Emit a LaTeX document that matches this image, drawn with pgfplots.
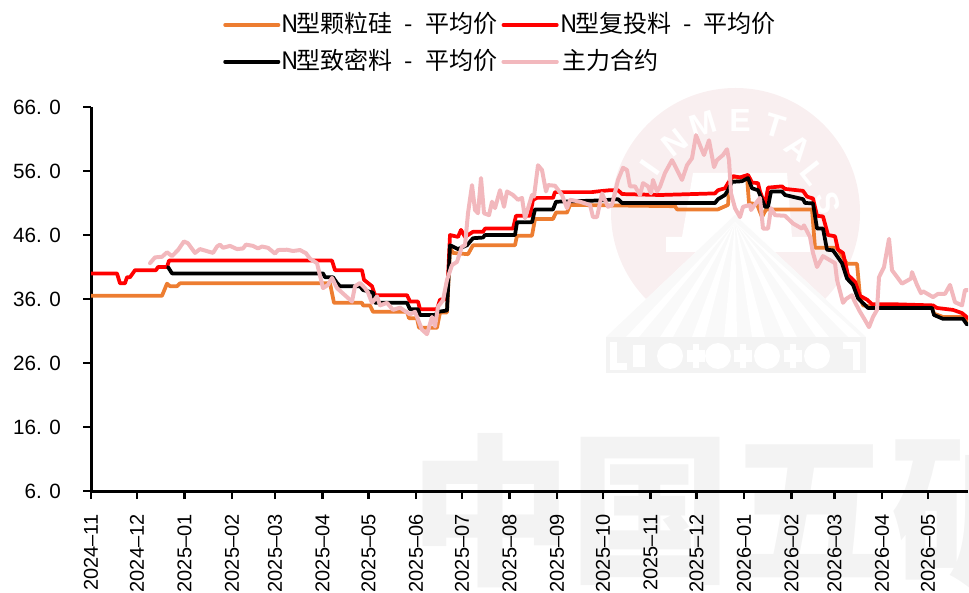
\documentclass[border=0pt]{standalone}
\usepackage{fontspec}
\usepackage{pgfplots}
\pgfplotsset{compat=1.18}
\setmainfont{Liberation Sans}
\newfontfamily\cjk{Noto Sans CJK SC}
\definecolor{corange}{HTML}{ED7D31}
\definecolor{cred}{HTML}{FF0000}
\definecolor{cpink}{HTML}{F2B8BD}
\definecolor{wmred}{HTML}{F9EFF0}
\definecolor{wmgrey}{HTML}{F3F3F3}
\definecolor{wmfan}{HTML}{F9F9F9}
\newcommand{\lent}[1]{{\fontsize{18}{18}\cjk\makebox[.52em]{N}#1}}
\newcommand{\avg}{\hspace{.5em}-\hspace{.5em}平均价}

\begin{document}
\begin{tikzpicture}
% watermark, in image pixels
\begin{scope}[x=.75pt,y=-.75pt,xshift=-68.25pt,yshift=368.25pt]
  \clip (0,0) rectangle (969,592);
  \fill[wmred] (735.5,212.5) circle (124.5);
  % white logo in the disc
  \fill[white] (693,173) -- (787,173) -- (792,237) -- (810,237) -- (810,252) -- (666,252) -- (666,237) -- (682,237) -- cycle;
  \foreach \cx/\cy/\a/\t in {650/168/55/I,675/143/38/N,703/124/17/M,740/120/0/E,775/126/-17/T,798/148/-38/A,813/173/-52/L,828/203/-75/S}
    \node[white,font=\bfseries\fontsize{24}{24}\selectfont,rotate=\a] at (\cx,\cy) {\t};
  % fan and base
  \fill[white] (735,215) -- (606,337) -- (866,337) -- cycle;
  \fill[wmfan] (735,215) -- (606,337) -- (866,337) -- cycle;
  \foreach \bx in {626,660,692,724,752,784,816,848}
    \fill[white] (735,222) -- (\bx,337) -- (\bx+13,337) -- cycle;
  \fill[wmgrey] (606,337) rectangle (866,373);
  \fill[white] (610,342) rectangle (617,370);
  \fill[white] (610,363) rectangle (627,370);
  \fill[white] (853,342) rectangle (860,370);
  \fill[white] (843,342) rectangle (860,349);
  \fill[white] (633,345) rectangle (645,367);
  \foreach \bx in {670,718,767,817}
    \fill[white] (\bx,356) circle (13);
  \foreach \bx in {696,743,793}{
    \fill[white] (\bx-3,344) rectangle (\bx+3,368);
    \fill[white] (\bx-9,350) rectangle (\bx+9,362);
  }
  % large text, runs off the lower edge
  \foreach \cx/\t in {491/中,651/国,810/五,972/矿}
    \node[text=wmgrey,font=\cjk\bfseries\fontsize{122}{122}\selectfont,inner sep=0pt] at (\cx,511) {\t};
\end{scope}
\path[use as bounding box] (-68.25pt,-75.75pt) rectangle (658.5pt,368.25pt);
\begin{axis}[
    at={(0pt,0pt)}, anchor=south west,
    scale only axis,
    width=657.75pt, height=288pt,
    xmin=91, xmax=968,
    ymin=6, ymax=66,
    axis lines=left,
    axis line style={-,line width=2.25pt,black},
    tick align=outside,
    major tick length=6pt,
    tick style={black,line width=1.6pt},
    xtick={91,137,184.5,232,275,322.5,368.5,416,462,509.5,557,603,650.5,696.5,744,791.5,834.5,882,928},
    xticklabels={2024--11,2024--12,2025--01,2025--02,2025--03,2025--04,2025--05,2025--06,2025--07,2025--08,2025--09,2025--10,2025--11,2025--12,2026--01,2026--02,2026--03,2026--04,2026--05},
    ytick={6,16,26,36,46,56,66},
    yticklabels={6. 0,16. 0,26. 0,36. 0,46. 0,56. 0,66. 0},
    xticklabel style={rotate=90,anchor=east,font=\fontsize{15}{15}\selectfont,yshift=0pt,xshift=-8pt},
    yticklabel style={font=\fontsize{15.5}{15.5}\selectfont,xshift=-13pt},
    legend columns=2,
    legend cell align=left,
    legend style={
        at={(rel axis cs:0.1505,1.249)}, anchor=north west,
        draw=none, fill=none, inner sep=0pt,
        /tikz/every even column/.append style={column sep=0.25pt},
        row sep=7.5pt,
        nodes={inner sep=0pt,inner xsep=3pt,text height=16pt,text depth=4pt,anchor=base west},
    },
    legend image code/.code={\draw[#1] (0pt,6pt) -- (40pt,6pt);},
    every axis plot/.append style={line width=2.8pt,line join=round,line cap=round},
]
% x is the position along the date axis (91 = 2024-11-01), y the price
\addplot[corange] table {
91 36.5
162 36.5
167 38.4
170 38
177 38
180 38.45
330 38.45
334 35.4
362 35.4
363 35
370 35
373 34
407 34
409 33
417 33
419 31.5
437 31.5
440 33.9
447 33.9
450 44
453 43.2
468 43
473 44.4
515 44.4
517 45.9
532 45.9
535 48.5
553 48.5
556 49.5
567 49.5
570 50.7
675 50.5
677 50
718 50
728 50.7
730 55
747 55
749 51
757 50.8
762 48.8
766 50
812 50
815 44
837 44
847 41.5
857 41.5
860 36.4
863 35
877 34.7
932 34.7
934 33.7
943 33.2
963 33.2
968 32.5
};
\addlegendentry{\lent{型颗粒硅\avg}}
\addplot[cred] table {
91 40
117 40
120 38.45
125 38.45
127 39.4
130 39.4
135 40.5
156 40.5
158 41
167 41
169 42
332 42
335 40.5
362 40.5
364 39
372 38
375 36.6
407 36.6
410 35.6
418 35.6
420 34.4
437 34.4
440 35.9
447 36
450 46
458 45.7
461 46.8
465 45.7
473 46.5
483 46.5
485 47
513 47
516 49
530 49
533 51.5
537 51.8
553 51.8
555 52.7
592 52.7
597 52.8
610 53
618 53
622 52.4
660 52.25
715 52.5
718 53
725 53.3
728 54.1
733 55.2
740 55
748 55.4
752 54.2
758 54.1
760 52.8
765 50.7
768 53.4
782 53.6
785 53.2
803 52.9
807 52
813 51.7
817 49
823 48.9
828 46
835 45.8
838 43.7
843 43.2
848 39.75
855 38.7
860 36.5
867 35.9
872 35.2
890 35.2
933 35
937 34.6
953 34.3
962 33.8
968 33
};
\addlegendentry{\lent{型复投料\avg}}
\addplot[black] table {
168 41
172 40
323 40
325 39.4
333 39.4
337 38.5
340 38
360 38
363 37.4
373 37
375 35.4
407 35.4
410 34.4
418 34.4
420 33.5
435 33.5
438 34
447 34.2
450 44.4
458 43.8
467 44.4
473 45.5
483 45.6
485 46
515 46
517 48
532 48
535 50
553 50
556 51.2
600 51.4
618 51.6
622 51
715 51
718 51.6
725 52.25
728 53
732 54.3
742 54.4
748 54.9
752 53.3
758 53
765 50.4
768 50.4
771 52.8
782 52.8
785 52.25
803 51.6
805 51
813 50.95
817 47
823 47
827 43.7
833 43.6
842 41.6
847 39.2
853 38.2
858 36.1
868 34.6
932 34.6
934 33.5
943 32.9
963 32.9
967 32
};
\addlegendentry{\lent{型致密料\avg}}
\addplot[cpink,line width=3pt] table {
150 41.6
155 42.5
162 42.6
167 43.3
172 42.7
178 43.65
184 45
188 44.7
195 43.2
200 43.8
213 43.2
217 44.2
220 44.5
223 44
230 44.3
237 43.8
243 43.9
246 44.5
253 44.3
258 43.9
262 44.2
268 44
275 43.1
278 43.65
287 43.7
293 43.5
300 43.65
306 43.15
310 42.3
317 41.6
323 37.7
328 38.2
332 39.3
337 37.7
352 35.6
355 38
360 38.5
365 37.7
368 37
372 35.4
377 36.4
380 35
387 35.4
393 34.3
400 34.65
410 33.6
415 34
422 31.2
427 30.5
432 33.2
435 31.7
438 34.8
443 35.8
447 39
452 41.3
457 41.8
462 44.2
465 44.4
468 49.4
472 53.8
475 49.9
478 49.4
481 54.9
484 49.4
489 49.1
492 51.2
495 50.2
500 53
504 50.4
507 52.8
513 52.25
518 51.5
522 51.8
525 48.6
532 52.25
534 52
538 56.9
542 56.15
546 52.8
548 53.8
555 53.7
562 52.25
567 50.2
570 51.5
580 51.2
590 50.7
593 48.8
597 48.8
602 52.5
608 50.4
612 50.7
618 54.6
623 56.5
627 56.15
630 53.6
635 53.6
640 52.25
643 54.1
648 53.6
651 52.5
653 54.6
657 52.8
660 53.55
665 55.7
672 57.7
676 56.5
682 54.6
687 56.9
692 58
696 61.6
700 60
704 58.5
709 60.8
714 56.6
717 57.7
723 58.5
727 59.4
729 57.7
731 52.5
735 50.2
740 48.8
743 50.4
750 50.7
751 49.9
757 51.2
760 51.8
763 47
768 47
771 50.2
775 49.1
785 49
793 47.8
802 47
804 47.5
810 45.7
813 43.2
817 41
823 42.7
835 41.6
837 39
843 35.4
846 36
852 36.6
854 35.8
860 34
865 32.7
869 31.6
873 33.2
877 34.3
879 39.4
884 41
889 45.4
892 40.5
902 38.4
911 39.2
912 40.2
917 38.2
921 36.9
923 37.2
933 36.3
938 36.8
945 36.8
950 38.2
955 35.5
962 35
965 37.4
968 37.4
};
\addlegendentry{\makebox[0pt][l]{\fontsize{18}{18}\cjk 主力合约}}
\end{axis}
\end{tikzpicture}
\end{document}
